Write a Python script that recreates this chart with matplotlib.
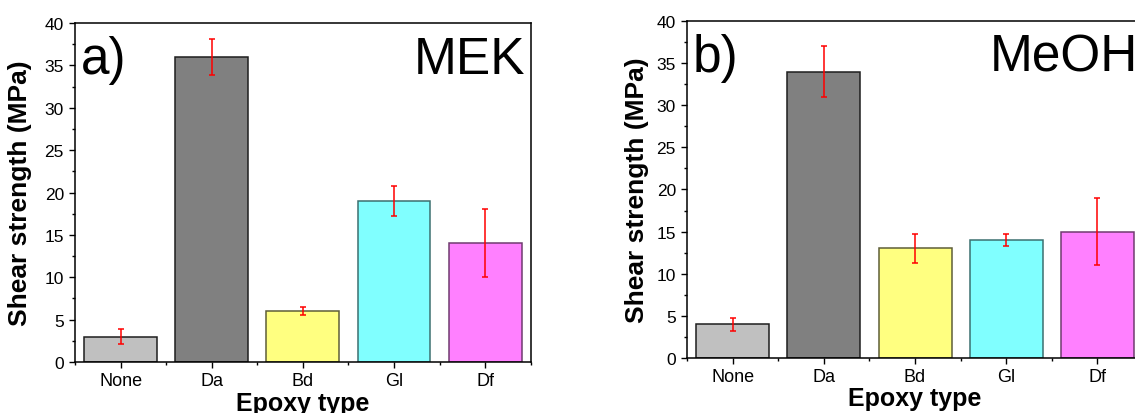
# Lap shear strength by epoxy type, two solvents side by side

import numpy as np
import matplotlib
matplotlib.use("Agg")
import matplotlib.pyplot as plt
from matplotlib.ticker import MultipleLocator

plt.rcParams['font.family'] = ['Liberation Sans', 'DejaVu Sans']

# Data
epoxy = ["None", "Da", "Bd", "Gl", "Df"]
mek_strength = [3, 36, 6, 19, 14]
mek_err = [0.85, 2.1, 0.5, 1.75, 4.0]
meoh_strength = [4, 34, 13, 14, 15]
meoh_err = [0.75, 3.0, 1.75, 0.7, 4.0]

fill_colors = ["#c0c0c0", "#808080", "#ffff80", "#80ffff", "#ff80ff"]
edge_colors = ["#1e1e1e", "#1e1e1e", "#5e5e38", "#3c7070", "#703c70"]

fig = plt.figure(figsize=(11.35, 4.14), dpi=100)
ax1 = fig.add_axes([0.0661, 0.1232, 0.4015, 0.8188])
ax2 = fig.add_axes([0.6053, 0.1329, 0.4018, 0.8140])


def draw_panel(ax, values, errors, tag, solvent, ylab_x, xlab_y):
    x = np.arange(len(epoxy))
    ax.bar(x, values, width=0.8, color=fill_colors, edgecolor=edge_colors,
           linewidth=1.1, zorder=2)
    ax.errorbar(x, values, yerr=errors, fmt="none", ecolor="red",
                elinewidth=1.1, capsize=2.0, capthick=1.1, zorder=3)

    ax.set_xlim(-0.5, 4.5)
    ax.set_ylim(0, 40)
    ax.set_xticks(x)
    ax.set_xticklabels(epoxy)
    ax.set_xticks(np.arange(-0.5, 5, 1), minor=True)
    ax.yaxis.set_major_locator(MultipleLocator(5))
    ax.yaxis.set_minor_locator(MultipleLocator(2.5))

    ax.tick_params(axis="both", which="both", direction="out", width=1.0,
                   top=False, right=False)
    ax.tick_params(axis="y", which="major", length=4.5, pad=3.5, labelsize=12.5)
    ax.tick_params(axis="y", which="minor", length=2.5)
    ax.tick_params(axis="x", which="major", length=4.0, pad=3.5, labelsize=13)
    ax.tick_params(axis="x", which="minor", length=2.5)
    for sp in ax.spines.values():
        sp.set_linewidth(1.1)

    ax.set_ylabel("Shear strength (MPa)", fontsize=19, fontweight="bold")
    ax.yaxis.set_label_coords(ylab_x, 0.5)
    ax.set_xlabel("Epoxy type", fontsize=18, fontweight="bold")
    ax.xaxis.label.set_va("baseline")
    ax.xaxis.set_label_coords(0.5, xlab_y)

    ax.text(0.012, 0.852, tag, transform=ax.transAxes, fontsize=37,
            ha="left", va="baseline")
    ax.text(0.988, 0.852, solvent, transform=ax.transAxes, fontsize=37,
            ha="right", va="baseline")


draw_panel(ax1, mek_strength, mek_err, "a)", "MEK", -0.094, -0.142)
draw_panel(ax2, meoh_strength, meoh_err, "b)", "MeOH", -0.083, -0.139)

fig.savefig("out.png", dpi=100)
